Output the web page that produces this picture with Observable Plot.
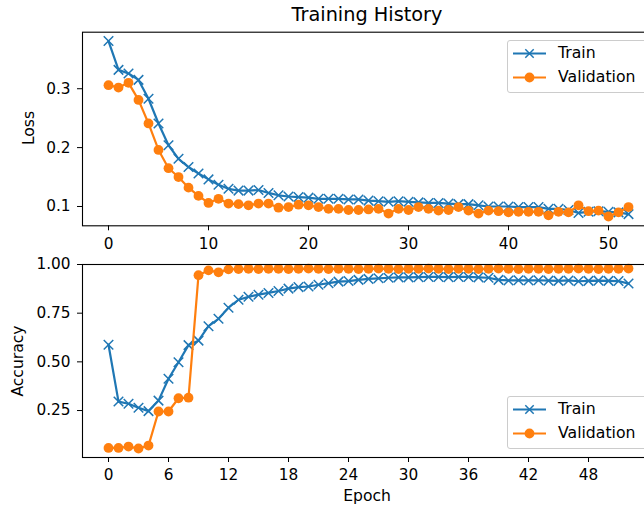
<!DOCTYPE html>
<html>
<head>
<meta charset="utf-8">
<script src="https://cdn.jsdelivr.net/npm/d3@7"></script>
<script src="https://cdn.jsdelivr.net/npm/@observablehq/plot@0.6"></script>
<style>
  html, body { margin: 0; padding: 0; background: white; overflow: hidden; }
  #fig { position: relative; width: 644px; height: 508px; overflow: hidden; background: white;
         font-family: "DejaVu Sans", sans-serif; color: #000; }
  .abs { position: absolute; white-space: nowrap; }
  .legend { position: absolute; background: rgba(255,255,255,0.8); border: 1px solid #cccccc;
            border-radius: 3px; box-sizing: border-box; }
  .legend svg { position: absolute; left: 0; top: 0; }
  .legend .lab { position: absolute; font-size: 15.7px; line-height: 16px; white-space: nowrap; }
</style>
</head>
<body>
<div id="fig"></div>
<script>
const epochs = d3.range(0, 53);
const trainLoss = [0.381,0.332,0.326,0.315,0.283,0.241,0.204,0.181,0.167,0.156,0.146,0.137,0.130,0.127,0.127,0.128,0.123,0.119,0.117,0.116,0.115,0.113,0.113,0.113,0.112,0.112,0.110,0.109,0.108,0.109,0.108,0.107,0.106,0.106,0.105,0.104,0.104,0.102,0.100,0.100,0.100,0.099,0.099,0.099,0.096,0.096,0.094,0.089,0.091,0.092,0.091,0.090,0.087];
const valLoss = [0.306,0.302,0.310,0.281,0.241,0.196,0.165,0.150,0.132,0.118,0.106,0.113,0.105,0.104,0.102,0.105,0.105,0.098,0.099,0.103,0.102,0.099,0.096,0.096,0.094,0.094,0.095,0.096,0.088,0.096,0.094,0.099,0.096,0.093,0.094,0.099,0.093,0.088,0.093,0.092,0.090,0.091,0.091,0.091,0.085,0.091,0.090,0.102,0.092,0.093,0.083,0.090,0.099];
const trainAcc = [0.588,0.296,0.285,0.264,0.247,0.301,0.413,0.498,0.586,0.609,0.683,0.721,0.778,0.819,0.834,0.845,0.854,0.864,0.876,0.884,0.887,0.896,0.904,0.912,0.915,0.921,0.926,0.929,0.932,0.934,0.934,0.935,0.936,0.936,0.935,0.936,0.936,0.934,0.932,0.921,0.918,0.919,0.918,0.919,0.917,0.916,0.918,0.914,0.916,0.917,0.916,0.915,0.902];
const valAcc = [0.058,0.058,0.065,0.055,0.070,0.245,0.245,0.313,0.316,0.945,0.970,0.960,0.975,0.977,0.978,0.977,0.978,0.978,0.977,0.978,0.979,0.978,0.977,0.978,0.978,0.977,0.978,0.979,0.978,0.977,0.978,0.978,0.979,0.978,0.977,0.978,0.978,0.977,0.978,0.979,0.978,0.977,0.978,0.978,0.977,0.978,0.978,0.979,0.978,0.977,0.978,0.978,0.979];
const lossTicks = [0.1, 0.2, 0.3];
const accTicks = [0.25, 0.5, 0.75, 1.0];
const epochTicksTop = [0, 10, 20, 30, 40, 50];
const epochTicksBottom = [0, 6, 12, 18, 24, 30, 36, 42, 48];
const seriesNames = ["Train", "Validation"];

const blue = "#1f77b4", orange = "#ff7f0e";
const rows = (ys) => epochs.map((e, i) => ({epoch: e, v: ys[i]}));
const svgStyle = "max-width:none; background:transparent; font-family:'DejaVu Sans',sans-serif; font-size:15.3px; color:#000; overflow:visible;";

function panel({height, marginTop, marginBottom, tr, va, yDomain, yTicks, yFmt, xTicks}) {
  return Plot.plot({
    width: 660, height, marginLeft: 82, marginRight: 6, marginTop, marginBottom,
    style: svgStyle,
    x: {domain: [-2.6, 54.6], ticks: xTicks, tickSize: 5, tickPadding: 7, label: null, tickFormat: d3.format("d")},
    y: {domain: yDomain, ticks: yTicks, tickSize: 5, tickPadding: 7, label: null, tickFormat: d3.format(yFmt)},
    marks: [
      Plot.line(rows(tr), {x: "epoch", y: "v", stroke: blue, strokeWidth: 2.2}),
      Plot.dot(rows(tr), {x: "epoch", y: "v", symbol: "times", stroke: blue, strokeWidth: 1.5, r: 4.4}),
      Plot.line(rows(va), {x: "epoch", y: "v", stroke: orange, strokeWidth: 2.2}),
      Plot.dot(rows(va), {x: "epoch", y: "v", fill: orange, stroke: "none", r: 4.9}),
      Plot.frame({stroke: "#000", strokeWidth: 1.1})
    ]
  });
}

const fig = document.getElementById("fig");

const topPanel = panel({height: 250, marginTop: 31.7, marginBottom: 24.7, tr: trainLoss, va: valLoss,
  yDomain: [0.0672, 0.396], yTicks: lossTicks, yFmt: ".1f", xTicks: epochTicksTop});
topPanel.style.position = "absolute"; topPanel.style.left = "0px"; topPanel.style.top = "0px";
fig.appendChild(topPanel);

const botPanel = panel({height: 258, marginTop: 14, marginBottom: 51, tr: trainAcc, va: valAcc,
  yDomain: [0.0088, 1.0], yTicks: accTicks, yFmt: ".2f", xTicks: epochTicksBottom});
botPanel.style.position = "absolute"; botPanel.style.left = "0px"; botPanel.style.top = "250px";
fig.appendChild(botPanel);

function addText(txt, x, y, size, rotate) {
  const d = document.createElement("div");
  d.className = "abs";
  d.textContent = txt;
  d.style.fontSize = size + "px";
  d.style.lineHeight = size + "px";
  d.style.left = x + "px";
  d.style.top = y + "px";
  d.style.transform = "translate(-50%, -50%)" + (rotate ? " rotate(-90deg)" : "");
  fig.appendChild(d);
}
addText("Training History", 367, 15, 19.3);
addText("Loss", 30, 128, 15.6, true);
addText("Accuracy", 18.5, 361, 15.6, true);
addText("Epoch", 367, 497, 15.6);

function addLegend(yTop) {
  const lg = document.createElement("div");
  lg.className = "legend";
  lg.style.left = "507px"; lg.style.top = yTop + "px";
  lg.style.width = "140px"; lg.style.height = "53px";
  const ns = "http://www.w3.org/2000/svg";
  const svg = document.createElementNS(ns, "svg");
  svg.setAttribute("width", "60"); svg.setAttribute("height", "53");
  const ys = [12.5, 36.5];
  const cols = [blue, orange];
  seriesNames.forEach((name, i) => {
    const y = ys[i];
    const ln = document.createElementNS(ns, "line");
    ln.setAttribute("x1", 5); ln.setAttribute("x2", 38);
    ln.setAttribute("y1", y); ln.setAttribute("y2", y);
    ln.setAttribute("stroke", cols[i]); ln.setAttribute("stroke-width", 2.2);
    svg.appendChild(ln);
    if (i === 0) {
      const p = document.createElementNS(ns, "path");
      const c = 21.5, r = 4.2;
      p.setAttribute("d", `M${c-r},${y-r}L${c+r},${y+r}M${c-r},${y+r}L${c+r},${y-r}`);
      p.setAttribute("stroke", blue); p.setAttribute("stroke-width", 1.5);
      svg.appendChild(p);
    } else {
      const ci = document.createElementNS(ns, "circle");
      ci.setAttribute("cx", 21.5); ci.setAttribute("cy", y); ci.setAttribute("r", 4.9);
      ci.setAttribute("fill", orange);
      svg.appendChild(ci);
    }
    const t = document.createElement("div");
    t.className = "lab";
    t.textContent = name;
    t.style.left = "50px";
    t.style.top = (y - 8.5) + "px";
    lg.appendChild(t);
  });
  lg.appendChild(svg);
  fig.appendChild(lg);
}
addLegend(40);
addLegend(396);
</script>
</body>
</html>
